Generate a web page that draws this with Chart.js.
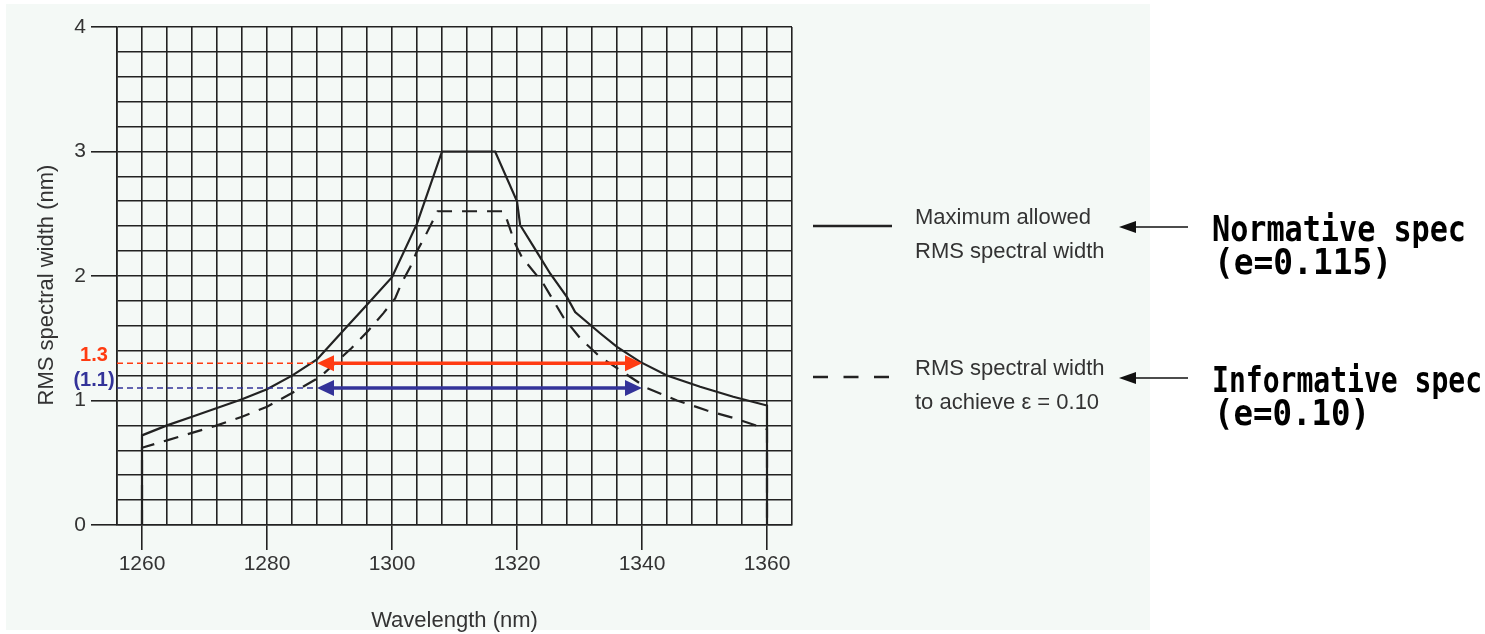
<!DOCTYPE html>
<html>
<head>
<meta charset="utf-8">
<title>RMS spectral width</title>
<script src="https://cdn.jsdelivr.net/npm/chart.js@4.4.1/dist/chart.umd.min.js"></script>
<style>
  html, body { margin: 0; padding: 0; background: #ffffff; }
  #wrap { position: relative; width: 1485px; height: 634px; }
</style>
</head>
<body>
<div id="wrap"><canvas id="miGrafico"></canvas></div>
<script>
// Maximum allowed RMS spectral width (solid line)
const normWl    = [1260, 1260, 1264, 1268, 1272, 1276, 1280, 1284, 1288, 1290, 1292, 1296, 1300, 1304, 1308, 1316.5, 1320, 1320.5, 1322.6, 1325.3, 1328, 1329.3, 1333.3, 1336, 1339.7, 1344, 1349.3, 1354.6, 1360, 1360];
const normWidth = [0, 0.72, 0.80, 0.87, 0.94, 1.01, 1.09, 1.20, 1.33, 1.44, 1.55, 1.77, 1.99, 2.42, 3.00, 3.00, 2.60, 2.41, 2.24, 2.02, 1.83, 1.71, 1.54, 1.43, 1.31, 1.20, 1.11, 1.03, 0.96, 0];

// RMS spectral width to achieve e = 0.10 (dashed line)
const infoWl    = [1260, 1260, 1264, 1268, 1272, 1276, 1280, 1284, 1288.5, 1290.9, 1293.5, 1296.2, 1298.6, 1300.5, 1301.5, 1302.9, 1304, 1305.3, 1306.6, 1307.3, 1317.8, 1318.4, 1319.7, 1320.8, 1324.2, 1327.4, 1330.1, 1333.3, 1336, 1340.8, 1345.6, 1350.4, 1354.6, 1360, 1360];
const infoWidth = [0, 0.62, 0.68, 0.74, 0.80, 0.87, 0.95, 1.06, 1.19, 1.30, 1.42, 1.56, 1.70, 1.82, 1.94, 2.07, 2.20, 2.32, 2.45, 2.52, 2.52, 2.45, 2.26, 2.15, 1.94, 1.67, 1.50, 1.35, 1.26, 1.10, 1.00, 0.92, 0.86, 0.77, 0];

// axes
const xTickLabels = [1260, 1280, 1300, 1320, 1340, 1360];
const yTickLabels = [0, 1, 2, 3, 4];
const xMin = 1256, xMax = 1364, xStep = 4;
const yMin = 0, yMax = 4;

// coloured arrows drawn on top
const arrowLevels = [1.3, 1.1];
const arrowLabels = ['1.3', '(1.1)'];
const arrowColors = ['#ff3c12', '#333399'];
const arrowFrom = [1288, 1288];
const arrowTo = [1340, 1340];

// legend + side notes
const legendLines = [['Maximum allowed', 'RMS spectral width'], ['RMS spectral width', 'to achieve \u03b5 = 0.10']];
const specLines = [['Normative spec', '(e=0.115)'], ['Informative spec', '(e=0.10)']];

const FONT = '"Liberation Sans", Arial, Helvetica, sans-serif';
const INK = '#222222';
const TXT = '#333333';

// grid every 4 nm / 0.2 nm
const xGrid = [];
for (let i = 0; i <= (xMax - xMin) / xStep; i++) xGrid.push(xMin + i * xStep);
const yGrid = [];
for (let i = 0; i <= 20; i++) yGrid.push(i / 5);

const normPts = [];
for (let i = 0; i < normWl.length; i++) normPts.push({ x: normWl[i], y: normWidth[i] });
const infoPts = [];
for (let i = 0; i < infoWl.length; i++) infoPts.push({ x: infoWl[i], y: infoWidth[i] });

function arrowHead(ctx, x, y, dir, len, half) {
    ctx.beginPath();
    ctx.moveTo(x, y);
    ctx.lineTo(x - dir * len, y - half);
    ctx.lineTo(x - dir * len, y + half);
    ctx.closePath();
    ctx.fill();
}

const panelBg = {
    id: 'panelBg',
    beforeDraw(chart) {
        const ctx = chart.ctx;
        ctx.save();
        ctx.fillStyle = '#ffffff';
        ctx.fillRect(0, 0, chart.width, chart.height);
        ctx.fillStyle = '#f4f9f6';
        ctx.fillRect(6, 4, 1144, 626);
        ctx.restore();
    }
};

const levelArrows = {
    id: 'levelArrows',
    afterDatasetsDraw(chart) {
        const ctx = chart.ctx, xs = chart.scales.x, ys = chart.scales.y;
        for (let i = 0; i < arrowLevels.length; i++) {
            const y = ys.getPixelForValue(arrowLevels[i]);
            const x0 = xs.getPixelForValue(arrowFrom[i]);
            const x1 = xs.getPixelForValue(arrowTo[i]);
            ctx.save();
            ctx.strokeStyle = arrowColors[i];
            ctx.fillStyle = arrowColors[i];
            // dashed leader from the y axis
            ctx.setLineDash([6, 4]);
            ctx.lineWidth = 1.5;
            ctx.beginPath();
            ctx.moveTo(chart.chartArea.left, y);
            ctx.lineTo(x0, y);
            ctx.stroke();
            // double headed arrow
            ctx.setLineDash([]);
            ctx.lineWidth = 3.5;
            ctx.beginPath();
            ctx.moveTo(x0 + 12, y);
            ctx.lineTo(x1 - 12, y);
            ctx.stroke();
            arrowHead(ctx, x0, y, -1, 17, 8);
            arrowHead(ctx, x1, y, 1, 17, 8);
            // value next to the axis
            ctx.font = 'bold 20px ' + FONT;
            ctx.textAlign = 'center';
            ctx.textBaseline = 'middle';
            ctx.fillText(arrowLabels[i], chart.chartArea.left - 23, y - 8);
            ctx.restore();
        }
    }
};

const sideNotes = {
    id: 'sideNotes',
    afterDraw(chart) {
        const ctx = chart.ctx;
        ctx.save();
        // y axis title
        ctx.fillStyle = TXT;
        ctx.font = '22px ' + FONT;
        ctx.textAlign = 'center';
        ctx.textBaseline = 'middle';
        ctx.translate(47, 285);
        ctx.rotate(-Math.PI / 2);
        ctx.fillText('RMS spectral width (nm)', 0, 0);
        ctx.restore();

        const rows = [226, 377];
        for (let i = 0; i < rows.length; i++) {
            const y = rows[i];
            ctx.save();
            // line sample
            ctx.strokeStyle = INK;
            ctx.lineWidth = 2.5;
            ctx.setLineDash(i === 0 ? [] : [15, 15.5]);
            ctx.beginPath();
            ctx.moveTo(813, y);
            ctx.lineTo(892, y);
            ctx.stroke();
            ctx.setLineDash([]);
            // legend text
            ctx.fillStyle = TXT;
            ctx.font = '22px ' + FONT;
            ctx.textAlign = 'left';
            ctx.textBaseline = 'alphabetic';
            ctx.fillText(legendLines[i][0], 915, y - 2);
            ctx.fillText(legendLines[i][1], 915, y + 32);
            // small black arrow
            ctx.strokeStyle = '#111';
            ctx.fillStyle = '#111';
            ctx.lineWidth = 1.6;
            ctx.beginPath();
            ctx.moveTo(1188, y + 1);
            ctx.lineTo(1130, y + 1);
            ctx.stroke();
            arrowHead(ctx, 1119, y + 1, -1, 17, 6);
            // big notes
            ctx.fillStyle = '#000';
            ctx.font = 'bold 35px "DejaVu Sans Mono", monospace';
            ctx.fillText(specLines[i][0], 1212, y + 15, i === 0 ? 254 : 270);
            ctx.fillText(specLines[i][1], 1214, y + 48, i === 0 ? 178 : 156);
            ctx.restore();
        }
    }
};

const grafico = new Chart(document.getElementById('miGrafico'), {
    type: 'line',
    data: {
        datasets: [
            {
                label: 'Maximum allowed RMS spectral width',
                data: normPts,
                borderColor: INK,
                borderWidth: 2.2,
                pointRadius: 0,
                tension: 0,
                fill: false
            },
            {
                label: 'RMS spectral width to achieve e = 0.10',
                data: infoPts,
                borderColor: INK,
                borderWidth: 2.2,
                borderDash: [15, 10],
                pointRadius: 0,
                tension: 0,
                fill: false
            }
        ]
    },
    options: {
        responsive: true,
        maintainAspectRatio: false,
        animation: false,
        devicePixelRatio: 1,
        layout: { padding: { left: 0, top: 27, right: 693, bottom: 0 } },
        plugins: {
            legend: { display: false },
            tooltip: { enabled: false }
        },
        scales: {
            x: {
                type: 'linear',
                min: xMin,
                max: xMax,
                afterBuildTicks: (s) => { s.ticks = xGrid.map(v => ({ value: v })); },
                afterFit: (s) => { s.height = 109; },
                ticks: {
                    autoSkip: false,
                    maxRotation: 0,
                    padding: 2,
                    color: TXT,
                    font: { family: FONT, size: 21 },
                    callback: (v) => xTickLabels.includes(v) ? String(v) : ''
                },
                grid: {
                    color: INK,
                    lineWidth: 1.6,
                    tickLength: 25,
                    tickColor: (c) => xTickLabels.includes(c.tick.value) ? INK : 'rgba(0,0,0,0)'
                },
                border: { color: INK, width: 1.6 },
                title: {
                    display: true,
                    text: 'Wavelength (nm)',
                    color: TXT,
                    font: { family: FONT, size: 22 },
                    padding: { top: 0, bottom: 0 }
                }
            },
            y: {
                type: 'linear',
                min: yMin,
                max: yMax,
                afterBuildTicks: (s) => { s.ticks = yGrid.map(v => ({ value: v })); },
                afterFit: (s) => { s.width = 117; },
                ticks: {
                    autoSkip: false,
                    padding: 5,
                    color: TXT,
                    font: { family: FONT, size: 21 },
                    callback: (v) => yTickLabels.includes(v) ? String(v) : ''
                },
                grid: {
                    color: INK,
                    lineWidth: 1.6,
                    tickLength: 26,
                    tickColor: (c) => yTickLabels.includes(c.tick.value) ? INK : 'rgba(0,0,0,0)'
                },
                border: { color: INK, width: 1.6 }
            }
        }
    },
    plugins: [panelBg, levelArrows, sideNotes]
});
</script>
</body>
</html>
